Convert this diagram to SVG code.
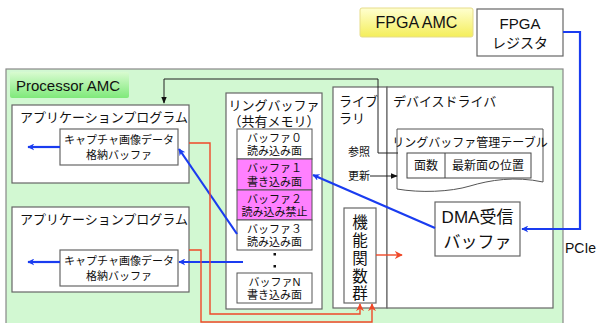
<svg xmlns="http://www.w3.org/2000/svg" width="597" height="323" viewBox="0 0 597 323">
<defs>
<linearGradient id="gGreen" x1="0" y1="0" x2="0" y2="1"><stop offset="0" stop-color="#d8fbd0"/><stop offset="1" stop-color="#7fe97a"/></linearGradient>
<linearGradient id="gYellow" x1="0" y1="0" x2="0" y2="1"><stop offset="0" stop-color="#ffffd0"/><stop offset="1" stop-color="#f4ee5a"/></linearGradient>
<marker id="aBlue" viewBox="0 0 10 10" refX="9" refY="5" markerWidth="7" markerHeight="7" orient="auto" markerUnits="userSpaceOnUse"><path d="M0,0 L10,5 L0,10 L3,5 z" fill="#1a3cf0"/></marker>
<marker id="aRed" viewBox="0 0 10 10" refX="9" refY="5" markerWidth="8" markerHeight="8" orient="auto" markerUnits="userSpaceOnUse"><path d="M0,0 L10,5 L0,10 L3,5 z" fill="#f04828"/></marker>
<marker id="aBlack" viewBox="0 0 10 10" refX="9" refY="5" markerWidth="7" markerHeight="7" orient="auto" markerUnits="userSpaceOnUse"><path d="M0,1 L10,5 L0,9 z" fill="#111"/></marker>
</defs>
<style>
text{font-family:"Liberation Sans","Noto Sans CJK JP",sans-serif;fill:#111}
.box{fill:#fff;stroke:#666;stroke-width:1.2}
.cell{fill:#fff;stroke:#555;stroke-width:1}
.mag{fill:#ff80ff;stroke:#555;stroke-width:1}
.s11{font-size:11px}
.s12{font-size:12px}
.s13{font-size:13px}
.s15{font-size:15px}
.v{font-size:15.500px;text-anchor:middle}
.mid{text-anchor:middle}
.blue{fill:none;stroke:#1a3cf0;stroke-width:2.2}
.red{fill:none;stroke:#f04828;stroke-width:1.4}
.blk{fill:none;stroke:#222;stroke-width:1}
</style>
<rect width="597" height="323" fill="#fff"/>

<g id="processor-amc">
<rect x="6" y="69" width="557" height="260" fill="#d2f8d2" stroke="#888" stroke-width="1.2"/>
<rect x="10" y="72" width="119" height="26" rx="2" fill="url(#gGreen)"/>
<text x="16" y="91" class="s15">Processor AMC</text>
</g>

<g id="fpga-amc">
<rect x="360" y="8" width="113" height="29" rx="2" fill="url(#gYellow)" stroke="#e6dc8a" stroke-width="1"/>
<text x="416.500" y="28" class="mid" style="font-size:16px">FPGA AMC</text>
</g>

<g id="fpga-register">
<rect x="477" y="9" width="86" height="47" class="box"/>
<text x="520" y="29" class="mid" style="font-size:15px">FPGA</text>
<text x="520" y="48" class="mid" style="font-size:14px">レジスタ</text>
</g>

<g id="app1">
<rect x="12" y="105" width="177" height="78" class="box"/>
<text x="20" y="122" class="s13">アプリケーションプログラム</text>
<rect x="60" y="129" width="118" height="36" class="box"/>
<text x="119" y="144" class="s11 mid">キャプチャ画像データ</text>
<text x="119" y="159" class="s11 mid">格納バッファ</text>
</g>

<g id="app2">
<rect x="12" y="207" width="177" height="85" class="box"/>
<text x="20" y="224" class="s13">アプリケーションプログラム</text>
<rect x="60" y="250" width="118" height="36" class="box"/>
<text x="119" y="265" class="s11 mid">キャプチャ画像データ</text>
<text x="119" y="280" class="s11 mid">格納バッファ</text>
</g>

<g id="ring-buffer">
<rect x="226" y="93" width="96" height="216" class="box"/>
<text x="274" y="110" class="s13 mid">リングバッファ</text>
<text x="274" y="126" class="s13 mid">（共有メモリ）</text>
<rect x="237" y="129" width="75" height="30" class="cell"/>
<text x="274.500" y="142" class="s11 mid">バッファ０</text>
<text x="274.500" y="155" class="s11 mid">読み込み面</text>
<rect x="237" y="159" width="75" height="31" class="mag"/>
<text x="274.500" y="172" class="s11 mid">バッファ１</text>
<text x="274.500" y="186" class="s11 mid">書き込み面</text>
<rect x="237" y="190" width="75" height="30" class="mag"/>
<text x="274.500" y="203" class="s11 mid">バッファ２</text>
<text x="274.500" y="216" class="s11 mid">読み込み禁止</text>
<rect x="237" y="220" width="75" height="30" class="cell"/>
<text x="274.500" y="233" class="s11 mid">バッファ３</text>
<text x="274.500" y="246" class="s11 mid">読み込み面</text>
<rect x="273.500" y="253" width="2.500" height="2.500" fill="#111"/>
<rect x="273.500" y="265" width="2.500" height="2.500" fill="#111"/>
<rect x="237" y="273" width="75" height="30" class="cell"/>
<text x="274.500" y="286" class="s11 mid">バッファN</text>
<text x="274.500" y="299" class="s11 mid">書き込み面</text>
</g>

<g id="library">
<rect x="333" y="87" width="54" height="221" class="box"/>
<text x="339" y="106" class="s13">ライブ</text>
<text x="339" y="123" class="s13">ラリ</text>
<text x="348" y="156" class="s11">参照</text>
<text x="348" y="180" class="s11">更新</text>
</g>

<g id="device-driver">
<rect x="387" y="87" width="166" height="221" class="box"/>
<text x="393" y="106" class="s13">デバイスドライバ</text>
</g>

<g id="mgmt-table">
<path d="M397,129 H543 V182 C515,176 490,180 470,186 C450,192 420,193 397,189 Z" fill="#fff" stroke="#555" stroke-width="1"/>
<text x="470" y="147" class="s12 mid">リングバッファ管理テーブル</text>
<rect x="407" y="153" width="124" height="25" fill="#fff" stroke="#444" stroke-width="1"/>
<line x1="445" y1="153" x2="445" y2="178" stroke="#444" stroke-width="1"/>
<text x="426" y="170" class="s12 mid">面数</text>
<text x="488" y="170" class="s12 mid">最新面の位置</text>
</g>

<g id="func-group">
<rect x="344" y="208" width="32" height="95" class="box"/>
<text x="360" y="228" class="v">機</text>
<text x="360" y="246" class="v">能</text>
<text x="360" y="264" class="v">関</text>
<text x="360" y="282" class="v">数</text>
<text x="360" y="299" class="v">群</text>
</g>

<g id="dma-buffer">
<rect x="435" y="202" width="85" height="54" class="box"/>
<text x="477.500" y="223" class="mid" style="font-size:17px">DMA受信</text>
<text x="477.500" y="248" class="mid" style="font-size:17px">バッファ</text>
</g>

<g id="pcie-label">
<text x="565" y="253" style="font-size:14px">PCIe</text>
</g>

<g id="connectors">
<path class="blue" d="M563,32 H580 V229 H522" marker-end="url(#aBlue)"/>
<path class="blue" d="M435,228 L313,175" marker-end="url(#aBlue)"/>
<path class="blue" d="M237,234 L179,149" marker-end="url(#aBlue)"/>
<path class="blue" d="M243,262 H179" marker-end="url(#aBlue)"/>
<path class="blue" d="M60,147 H28" marker-end="url(#aBlue)"/>
<path class="blue" d="M60,262 H28" marker-end="url(#aBlue)"/>
<path class="blk" d="M398,153 H378 V79 H164 V103" marker-end="url(#aBlack)"/>
<path class="blk" d="M370,176 H397" marker-end="url(#aBlack)"/>
<path class="red" d="M189,143 H210 V314 H360 V304" marker-end="url(#aRed)"/>
<path class="red" d="M189,250 H201 V322 H372 V304" marker-end="url(#aRed)"/>
<path class="red" d="M376,255 H402" marker-end="url(#aRed)"/>
</g>
</svg>
